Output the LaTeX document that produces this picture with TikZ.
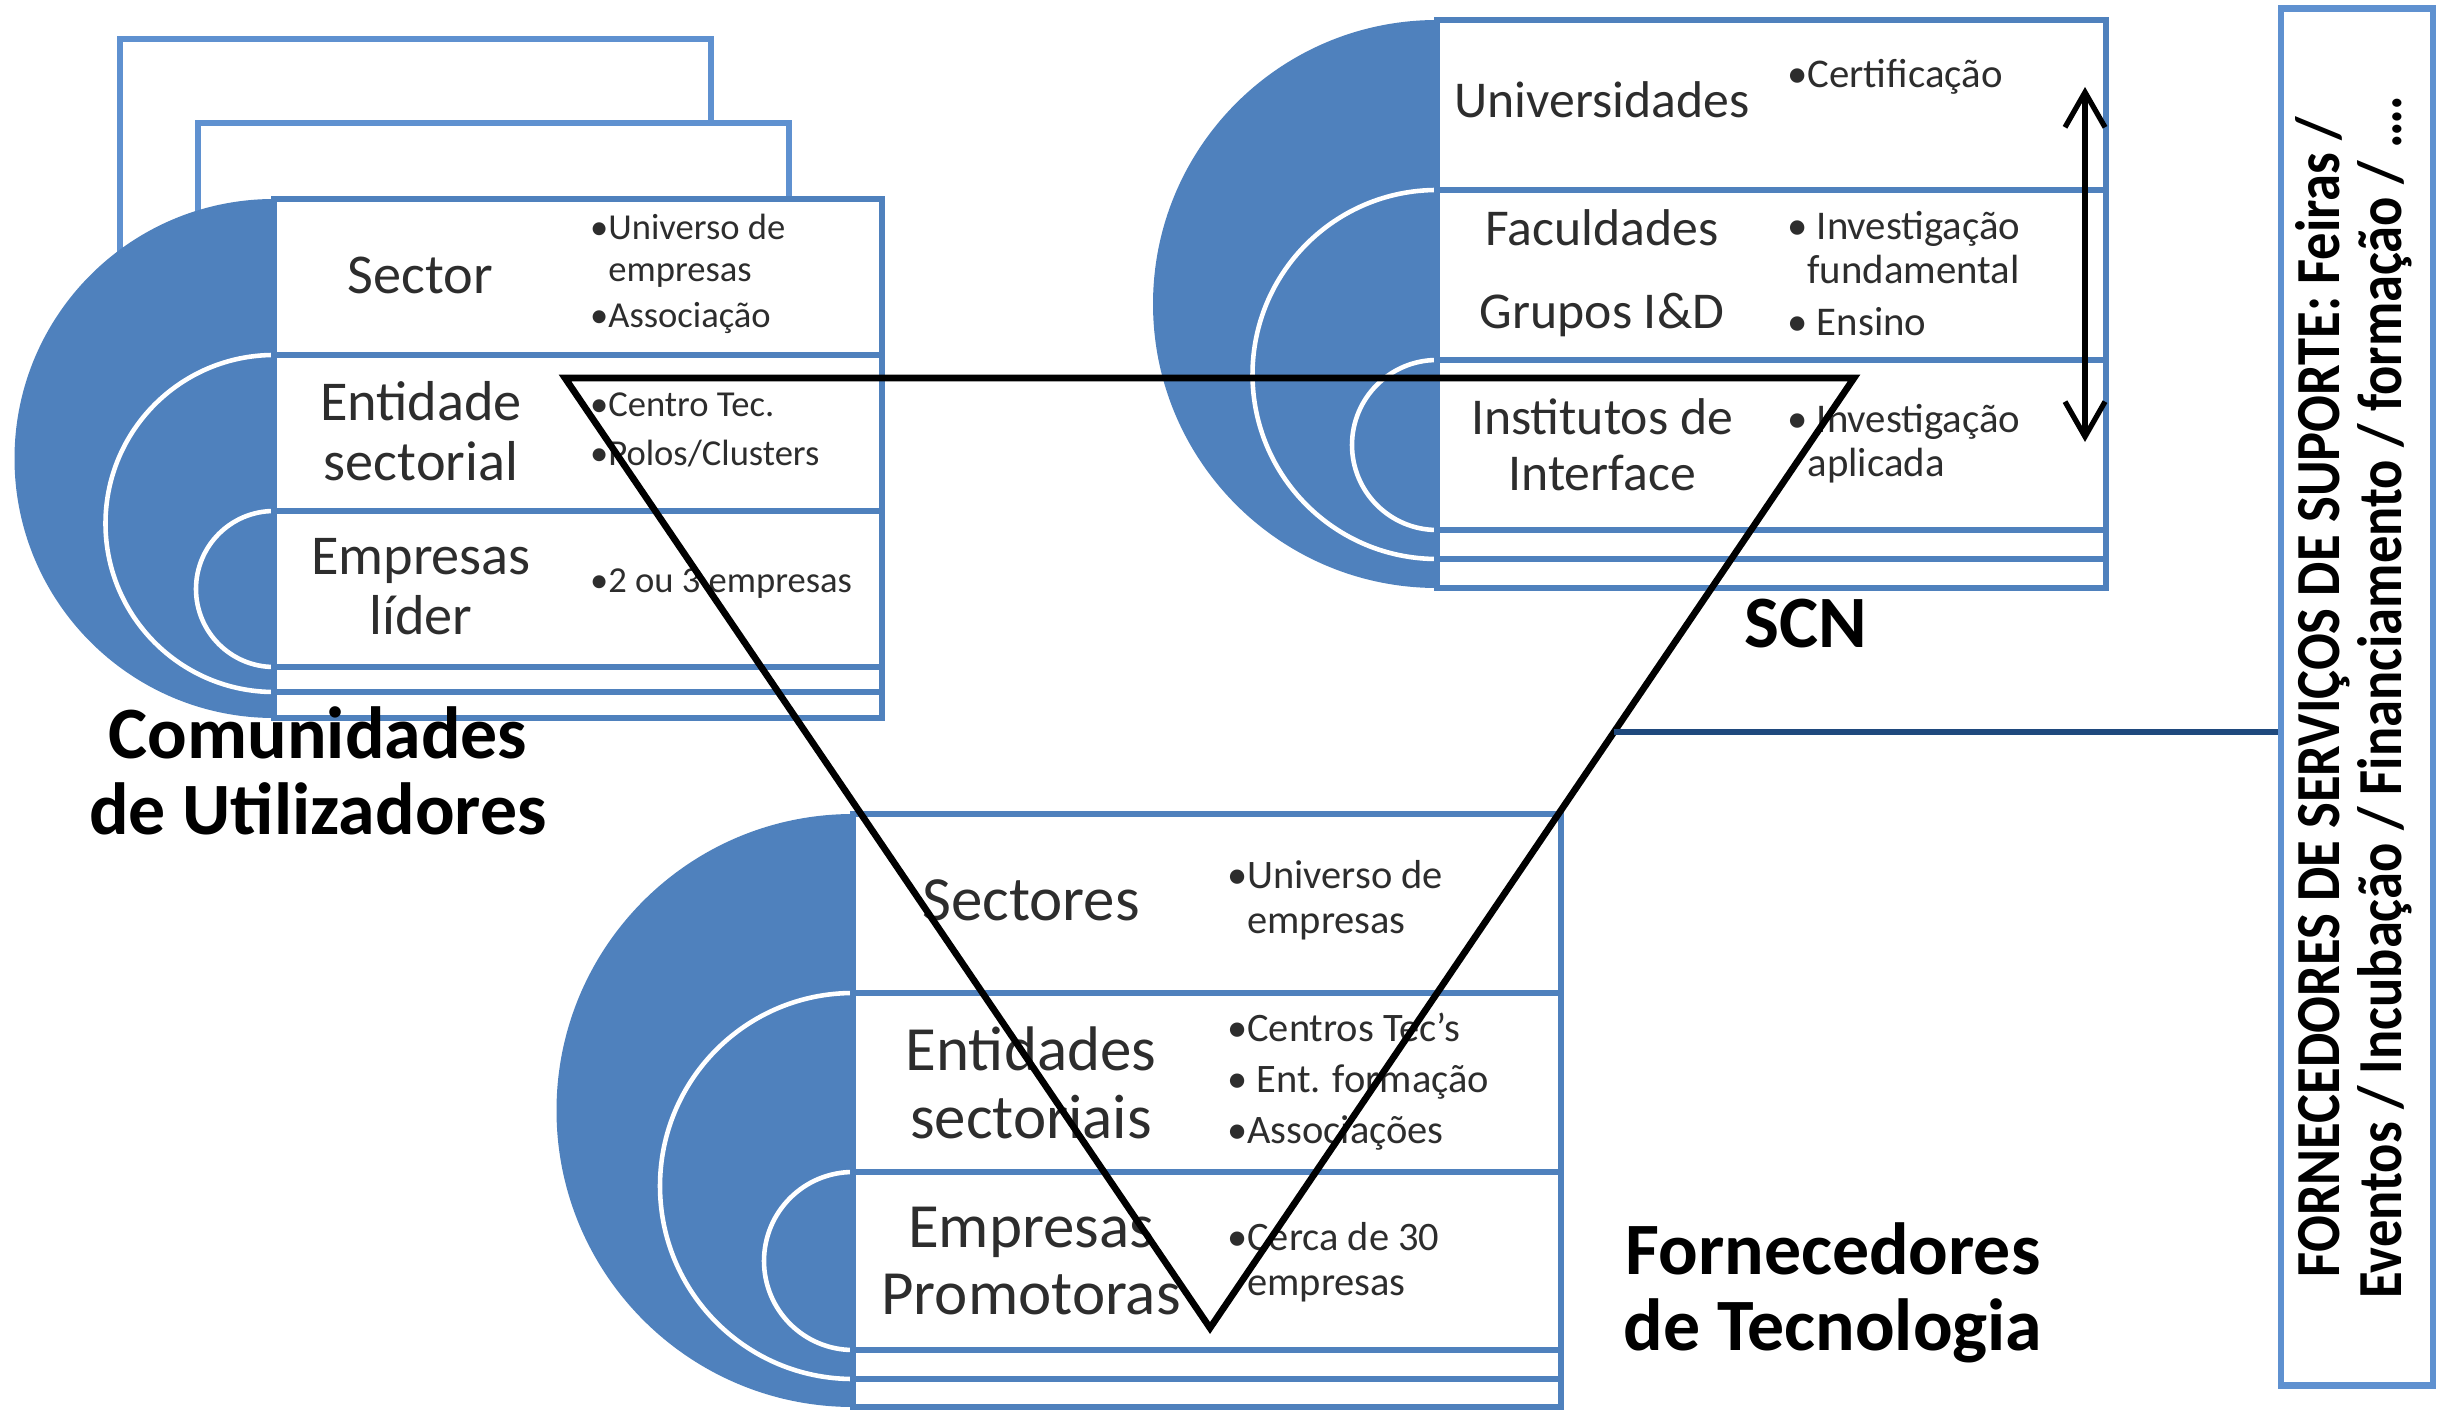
\documentclass[tikz,border=0pt]{standalone}
\usepackage{fontspec}
\setmainfont{Carlito}
\usetikzlibrary{arrows.meta,calc}
\definecolor{accent}{RGB}{79,129,189}
\definecolor{backline}{RGB}{95,145,208}
\definecolor{navy}{RGB}{31,73,125}
\definecolor{txt}{RGB}{45,45,45}
\begin{document}
\begin{tikzpicture}[x=.01cm,y=-.01cm,line width=1.8pt,
  rowbox/.style={draw=accent,fill=white},
  backbox/.style={draw=backline,fill=white},
  ring/.style={draw=white,fill=accent,line width=1.3pt},
  lab/.style={text=txt,align=center,inner sep=0pt},
  bul/.style={text=txt,align=left,anchor=west,inner sep=0pt},
  cul/.style={lab,font=\fontsize{16}{17}\selectfont},
  cub/.style={bul,font=\fontsize{10.4}{12}\selectfont},
  scl/.style={lab,font=\fontsize{14.7}{16}\selectfont},
  scb/.style={bul,font=\fontsize{11.6}{12.5}\selectfont},
  ftl/.style={lab,font=\fontsize{17.9}{19.2}\selectfont},
  ftb/.style={bul,font=\fontsize{11.5}{12.8}\selectfont},
  head/.style={align=center,inner sep=0pt,font=\bfseries\fontsize{21}{21.5}\selectfont}]
\useasboundingbox (0,0) rectangle (2440,1410);
\draw[backbox] (120,39) rectangle (711,600);
\draw[backbox] (198,123) rectangle (789,600);
\fill[accent] (274,718) arc[start angle=90,end angle=270,radius=259.5] -- cycle;
\draw[ring] (274,692) arc[start angle=90,end angle=270,radius=168.5];
\draw[ring] (274,667) arc[start angle=90,end angle=270,radius=78];
\foreach \ya/\yb in {199/355,355/511,511/667,667/692,692/718}
  \draw[rowbox] (274,\ya) rectangle (882,\yb);
\fill[accent] (1437,588) arc[start angle=90,end angle=270,radius=284] -- cycle;
\draw[ring] (1437,559) arc[start angle=90,end angle=270,radius=184.5];
\draw[ring] (1437,530) arc[start angle=90,end angle=270,radius=85];
\foreach \ya/\yb in {20/190,190/360,360/530,530/559,559/588}
  \draw[rowbox] (1437,\ya) rectangle (2106,\yb);
\fill[accent] (853,1407) arc[start angle=90,end angle=270,radius=296.5] -- cycle;
\draw[ring] (853,1379) arc[start angle=90,end angle=270,radius=193];
\draw[ring] (853,1350) arc[start angle=90,end angle=270,radius=89];
\foreach \ya/\yb in {814/993,993/1172,1172/1350,1350/1379,1379/1407}
  \draw[rowbox] (853,\ya) rectangle (1561,\yb);
\node[cul] (cu1) at (420,275) {Sector};
\node[cub] (cu1b) at (587,274) {\textbullet Universo de\\\hphantom{\textbullet}empresas\\[1pt]\textbullet Associação};
\node[cul] (cu2) at (421,431) {Entidade\\sectorial};
\node[cub] (cu2b) at (587,430) {\textbullet Centro Tec.\\[1.7pt]\textbullet Polos/Clusters};
\node[cul] (cu3) at (421,587) {Empresas\\líder};
\node[cub] (cu3b) at (587,584) {\textbullet 2 ou 3 empresas};
\node[scl] (sc1) at (1602,100) {Universidades};
\node[scb] (sc1b) at (1784,77) {\textbullet Certificação};
\node[scl] (sc2) at (1602,273) {Faculdades\\[7.6pt]Grupos I\&D};
\node[scb] (sc2b) at (1784,274) {\textbullet~Investigação\\\hphantom{\textbullet}fundamental\\[2.3pt]\textbullet~Ensino};
\node[scl] (sc3) at (1602,445) {Institutos de\\Interface};
\node[scb] (sc3b) at (1784,444) {\textbullet~Investigação\\\hphantom{\textbullet}aplicada};
\node[ftl] (ft1) at (1031,900) {Sectores};
\node[ftb] (ft1b) at (1224,900) {\textbullet Universo de\\\hphantom{\textbullet}empresas};
\node[ftl] (ft2) at (1031,1083) {Entidades\\sectoriais};
\node[ftb] (ft2b) at (1224,1082) {\textbullet Centros Tec’s\\[1.7pt]\textbullet~Ent. formação\\[1.7pt]\textbullet Associações};
\node[ftl] (ft3) at (1031,1261) {Empresas\\Promotoras};
\node[ftb] (ft3b) at (1224,1262) {\textbullet Cerca de 30\\\hphantom{\textbullet}empresas};
\node[head] (cuh) at (318,771) {Comunidades\\de Utilizadores};
\node[head] (sch) at (1806,624) {SCN};
\node[head] (fth) at (1833,1293) {Fornecedores\\de Tecnologia};
\node[draw=backline,fill=white,minimum width=13.76cm,minimum height=1.52cm,inner sep=0pt,rotate=90,
  font=\bfseries\fontsize{15.5}{14.5}\selectfont] (sup) at (2357,697)
  {\scalebox{1}[1.15]{\begin{tabular}{@{}c@{}}FORNECEDORES DE SERVIÇOS DE SUPORTE: Feiras /\\Eventos / Incubação / Financiamento / formação / ….\end{tabular}}};
\coordinate (tA) at (565,378);
\coordinate (tB) at (1854,378);
\coordinate (tC) at (1210,1328);
\draw[line width=1.9pt,line join=miter] (tA) -- (tB) -- (tC) -- cycle;
\coordinate (lnk) at ($(tB)!.3726!(tC)$);
\draw[navy] (lnk) -- (lnk -| sup.north);
\coordinate (up) at (2085,87);
\coordinate (dn) at (2085,442);
\draw[{Straight Barb[length=3.5mm,width=4mm]}-{Straight Barb[length=3.5mm,width=4mm]},line width=1.5pt] (up) -- (dn);
\end{tikzpicture}
\end{document}
